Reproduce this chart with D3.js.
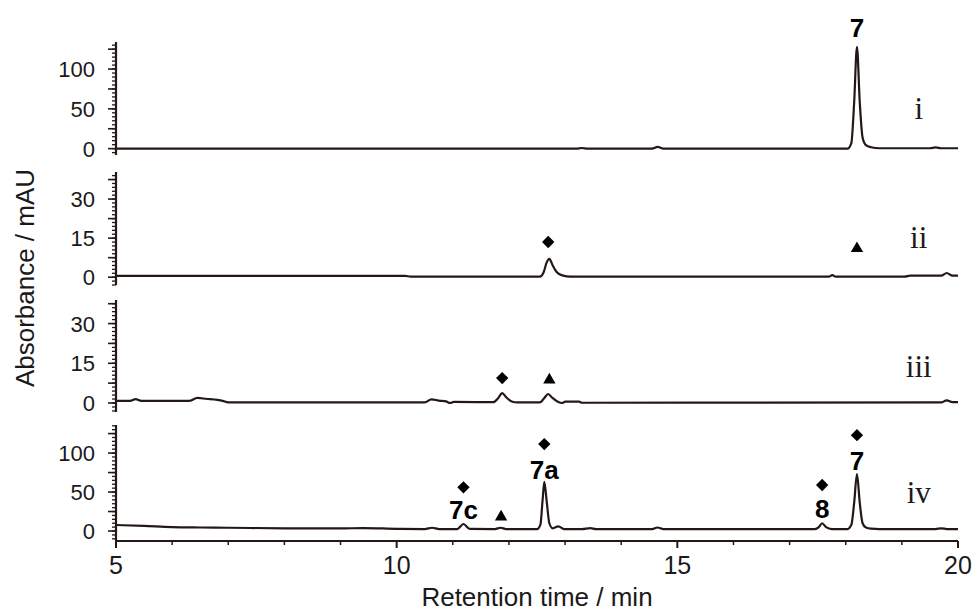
<!DOCTYPE html>
<html>
<head>
<meta charset="utf-8">
<script src="https://cdn.jsdelivr.net/npm/d3@7"></script>
<style>
  html, body { margin: 0; padding: 0; background: #fff; }
  svg { display: block; }
  text { font-family: "Liberation Sans", Arial, sans-serif; fill: #1a1a1a; }
</style>
</head>
<body>
<svg id="chart" width="976" height="612"></svg>
<script>
// ---------------- DATA ----------------
// Retention-time axis
const xDomain = [5, 20];
const xTickLabels = [5, 10, 15, 20];

// y tick labels per panel
const yTicksI = [0, 50, 100];
const yTicksII = [0, 15, 30];
const yTicksIII = [0, 15, 30];
const yTicksIV = [0, 50, 100];

// Trace i (min, mAU)
const traceI_t = [5, 13.2, 13.3, 13.4, 14.55, 14.65, 14.75, 18.03, 18.1, 18.15, 18.2, 18.25, 18.3, 18.36, 18.45, 18.6, 19.5, 19.6, 19.7, 20];
const traceI_v = [0, 0, 0.8, 0, 0, 2.2, 0, 0, 7, 58, 128, 58, 14, 4.5, 1.8, 0.5, 0.5, 1.5, 0.5, 0.5];

// Trace ii
const traceII_t = [5, 10.15, 10.25, 12.55, 12.62, 12.67, 12.72, 12.78, 12.85, 12.95, 13.1, 17.7, 17.76, 17.82, 19.05, 19.15, 19.7, 19.8, 19.9, 20];
const traceII_v = [0.5, 0.5, 0.2, 0.2, 2, 5.5, 7, 4.5, 2, 0.7, 0.2, 0.2, 0.8, 0.2, 0.2, 0.6, 0.6, 1.6, 0.6, 0.6];

// Trace iii
const traceIII_t = [5, 5.25, 5.35, 5.45, 6.3, 6.45, 6.6, 6.9, 7.0, 10.5, 10.62, 10.75, 10.88, 10.95, 11.02, 11.72, 11.8, 11.88, 11.95, 12.05, 12.15, 12.55, 12.62, 12.7, 12.77, 12.87, 12.95, 13.0, 13.25, 13.3, 19.7, 19.8, 19.9, 20];
const traceIII_v = [0.8, 0.8, 1.5, 0.8, 0.8, 1.9, 1.6, 0.8, 0.2, 0.2, 1.4, 0.9, 0.6, 0.0, 0.4, 0.3, 1.6, 3.7, 2.2, 0.6, 0.2, 0.2, 1.6, 3.4, 2.0, 0.5, 0.0, 0.5, 0.5, 0.1, 0.2, 1.0, 0.3, 0.3];

// Trace iv
const traceIV_t = [5, 5.5, 6, 6.5, 7, 8, 9, 9.4, 10, 10.5, 10.63, 10.76, 11.08, 11.19, 11.3, 11.75, 11.85, 11.95, 12.5, 12.56, 12.6, 12.63, 12.67, 12.72, 12.78, 12.88, 12.98, 13.3, 13.45, 13.55, 14.55, 14.65, 14.75, 17.45, 17.52, 17.58, 17.65, 17.75, 18.03, 18.1, 18.15, 18.2, 18.25, 18.3, 18.36, 18.45, 18.6, 19.6, 19.7, 19.8, 20];
const traceIV_v = [7.7, 6.5, 5, 4.5, 4.2, 3.5, 3.3, 3.8, 2.8, 2.5, 4.2, 2.5, 2.5, 9, 2.8, 2.5, 4.2, 2.5, 2.5, 8, 40, 63, 40, 10, 3.5, 6, 2.5, 2.5, 3.8, 2.5, 2.5, 4.5, 2.5, 2.5, 5, 10, 5, 2.5, 2.5, 8, 36, 73, 36, 10, 4.5, 3, 2.5, 2.5, 3.5, 2.5, 2.5];

// Annotations (time, value) per panel
const markersII = [{t: 12.7, v: 13.5, s: "diamond"}, {t: 18.2, v: 11, s: "triangle"}];
const markersIII = [{t: 11.88, v: 9.4, s: "diamond"}, {t: 12.72, v: 8.7, s: "triangle"}];
const markersIV = [{t: 11.19, v: 56, s: "diamond"}, {t: 11.86, v: 18, s: "triangle"}, {t: 12.63, v: 111.5, s: "diamond"}, {t: 17.58, v: 59, s: "diamond"}, {t: 18.2, v: 123, s: "diamond"}];
const labelsI = [{t: 18.2, v: 152, text: "7"}];
const labelsIV = [{t: 11.19, v: 27, text: "7c"}, {t: 12.63, v: 79.5, text: "7a"}, {t: 17.58, v: 29.5, text: "8"}, {t: 18.2, v: 90, text: "7"}];
const romanNames = ["i", "ii", "iii", "iv"];
const romanT = [19.3, 19.3, 19.3, 19.3];
const romanV = [37, 11.2, 9.8, 36];

// ---------------- LAYOUT ----------------
const ink = "#231815";
const svg = d3.select("#chart");
const x = d3.scaleLinear().domain(xDomain).range([116, 958]);

const panels = [
  {t: traceI_t, v: traceI_v, domain: [-8, 134], range: [155, 42], ticks: yTicksI, markers: [], labels: labelsI},
  {t: traceII_t, v: traceII_v, domain: [-3, 40.4], range: [285, 172], ticks: yTicksII, markers: markersII, labels: []},
  {t: traceIII_t, v: traceIII_v, domain: [-3.4, 38.9], range: [412, 300], ticks: yTicksIII, markers: markersIII, labels: []},
  {t: traceIV_t, v: traceIV_v, domain: [-12.8, 136], range: [541, 425], ticks: yTicksIV, markers: markersIV, labels: labelsIV}
];

panels.forEach((p, i) => {
  const y = d3.scaleLinear().domain(p.domain).range(p.range);
  const g = svg.append("g");
  const step = p.ticks[1] - p.ticks[0];
  const minorStep = step / 10;
  const medStep = step / 2;

  // y axis line
  g.append("line")
    .attr("x1", x(xDomain[0])).attr("x2", x(xDomain[0]))
    .attr("y1", p.range[0]).attr("y2", p.range[1])
    .attr("stroke", ink).attr("stroke-width", 2.2);

  // minor ticks
  const minor = d3.range(Math.ceil(p.domain[0] / minorStep), Math.floor(p.domain[1] / minorStep) + 1).map(k => k * minorStep);
  g.selectAll(".mn").data(minor).enter().append("line")
    .attr("x1", x(xDomain[0]) - 4).attr("x2", x(xDomain[0]))
    .attr("y1", d => y(d)).attr("y2", d => y(d))
    .attr("stroke", ink).attr("stroke-width", 1.3);
  // medium/major ticks
  const med = d3.range(0, Math.floor(p.domain[1] / medStep) + 1).map(k => k * medStep);
  g.selectAll(".md").data(med).enter().append("line")
    .attr("x1", x(xDomain[0]) - 8).attr("x2", x(xDomain[0]))
    .attr("y1", d => y(d)).attr("y2", d => y(d))
    .attr("stroke", ink).attr("stroke-width", 1.6);
  // labels
  g.selectAll(".tl").data(p.ticks).enter().append("text")
    .attr("x", 95).attr("y", d => y(d) + 8)
    .attr("text-anchor", "end")
    .style("font-size", "22px")
    .text(d => d);

  // trace
  const pts = p.t.map((t, k) => [t, p.v[k]]);
  const line = d3.line().x(d => x(d[0])).y(d => y(d[1])).curve(d3.curveMonotoneX);
  g.append("path").attr("d", line(pts))
    .attr("fill", "none").attr("stroke", ink).attr("stroke-width", 2.2)
    .attr("stroke-linejoin", "round");

  // markers
  p.markers.forEach(m => {
    const sym = m.s === "diamond"
      ? d3.symbol().type(d3.symbolSquare).size(76)
      : d3.symbol().type(d3.symbolTriangle).size(66);
    g.append("path").attr("d", sym())
      .attr("transform", `translate(${x(m.t)},${y(m.v)})` + (m.s === "diamond" ? " rotate(45)" : ""))
      .attr("fill", "#000");
  });

  // compound labels
  p.labels.forEach(l => {
    g.append("text")
      .attr("x", x(l.t)).attr("y", y(l.v) + 9.5)
      .attr("text-anchor", "middle")
      .style("font-size", "26px").style("font-weight", "bold")
      .style("fill", "#000")
      .text(l.text);
  });

  // roman numeral
  g.append("text")
    .attr("x", x(romanT[i])).attr("y", y(romanV[i]))
    .attr("text-anchor", "middle")
    .style("font-family", "'Liberation Serif', 'Times New Roman', serif")
    .style("font-size", "31px")
    .text(romanNames[i]);
});

// x axis
const xg = svg.append("g");
xg.append("line").attr("x1", x(5)).attr("x2", x(20)).attr("y1", 541).attr("y2", 541)
  .attr("stroke", ink).attr("stroke-width", 2.2);
xg.selectAll(".xm").data(d3.range(xDomain[0], xDomain[1] + 1)).enter().append("line")
  .attr("x1", d => x(d)).attr("x2", d => x(d))
  .attr("y1", 541).attr("y2", d => xTickLabels.includes(d) ? 548 : 545)
  .attr("stroke", ink).attr("stroke-width", d => xTickLabels.includes(d) ? 2 : 1.5);
xg.selectAll(".xl").data(xTickLabels).enter().append("text")
  .attr("x", d => x(d)).attr("y", 574)
  .attr("text-anchor", "middle")
  .style("font-size", "25px")
  .text(d => d);

// axis titles
svg.append("text")
  .attr("x", 537).attr("y", 606)
  .attr("text-anchor", "middle")
  .style("font-size", "26px")
  .text("Retention time / min");
svg.append("text")
  .attr("transform", "translate(34,278) rotate(-90)")
  .attr("text-anchor", "middle")
  .style("font-size", "26px")
  .text("Absorbance / mAU");
</script>
</body>
</html>
